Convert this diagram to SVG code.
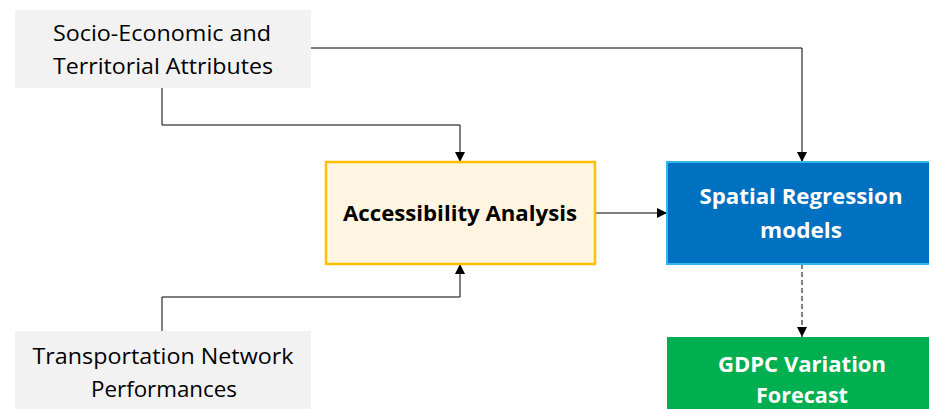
<svg xmlns="http://www.w3.org/2000/svg" width="929" height="409" viewBox="0 0 929 409">
<style>
.t{font-family:"Open Sans","Noto Sans","Liberation Sans",sans-serif;font-size:21.5px;text-anchor:middle}
.g{fill:#f2f2f2}
.b{font-weight:bold;font-size:22px}
.c{fill:none;stroke:#000;stroke-width:1}
</style>
<defs>
<marker id="ah" viewBox="0 0 10 10" refX="10" refY="5" markerWidth="10" markerHeight="10" markerUnits="userSpaceOnUse" orient="auto"><path d="M0,0L10,5L0,10z" fill="#000"/></marker>
</defs>
<rect width="929" height="409" fill="#fff"/>
<g id="connectors">
<path class="c" d="M162,88V125H460V162" marker-end="url(#ah)"/>
<path class="c" d="M311,48H802V162" marker-end="url(#ah)"/>
<path class="c" d="M162,331V297H460V264" marker-end="url(#ah)"/>
<path class="c" d="M595,213H667" marker-end="url(#ah)"/>
<path class="c" d="M802,264V337" stroke-dasharray="5,3" stroke="#404040" marker-end="url(#ah)"/>
</g>
<g id="socio">
<rect class="g" x="15" y="10" width="296" height="78"/>
<text class="t" x="162" y="41" textLength="218" lengthAdjust="spacingAndGlyphs">Socio-Economic and</text>
<text class="t" x="163" y="74" textLength="220" lengthAdjust="spacingAndGlyphs">Territorial Attributes</text>
</g>
<g id="transport">
<rect class="g" x="15" y="331" width="296" height="80"/>
<text class="t" x="163" y="364" textLength="261" lengthAdjust="spacingAndGlyphs">Transportation Network</text>
<text class="t" x="164" y="397" textLength="146" lengthAdjust="spacingAndGlyphs">Performances</text>
</g>
<g id="access">
<rect x="326" y="162" width="269" height="102" fill="#fff5e1" stroke="#ffc000" stroke-width="2.5"/>
<text class="t b" x="460" y="221" textLength="234" lengthAdjust="spacingAndGlyphs">Accessibility Analysis</text>
</g>
<g id="spatial">
<rect x="667" y="162" width="264" height="102" fill="#0070c0" stroke="#33b5f0" stroke-width="2"/>
<text class="t b" x="801" y="204" fill="#fff" textLength="203" lengthAdjust="spacingAndGlyphs">Spatial Regression</text>
<text class="t b" x="801" y="238" fill="#fff" textLength="82" lengthAdjust="spacingAndGlyphs">models</text>
</g>
<g id="gdpc">
<rect x="667" y="337" width="264" height="76" fill="#00b050"/>
<text class="t b" x="802" y="372" fill="#fff" textLength="168" lengthAdjust="spacingAndGlyphs">GDPC Variation</text>
<text class="t b" x="802" y="403" fill="#fff" textLength="92" lengthAdjust="spacingAndGlyphs">Forecast</text>
</g>
</svg>
